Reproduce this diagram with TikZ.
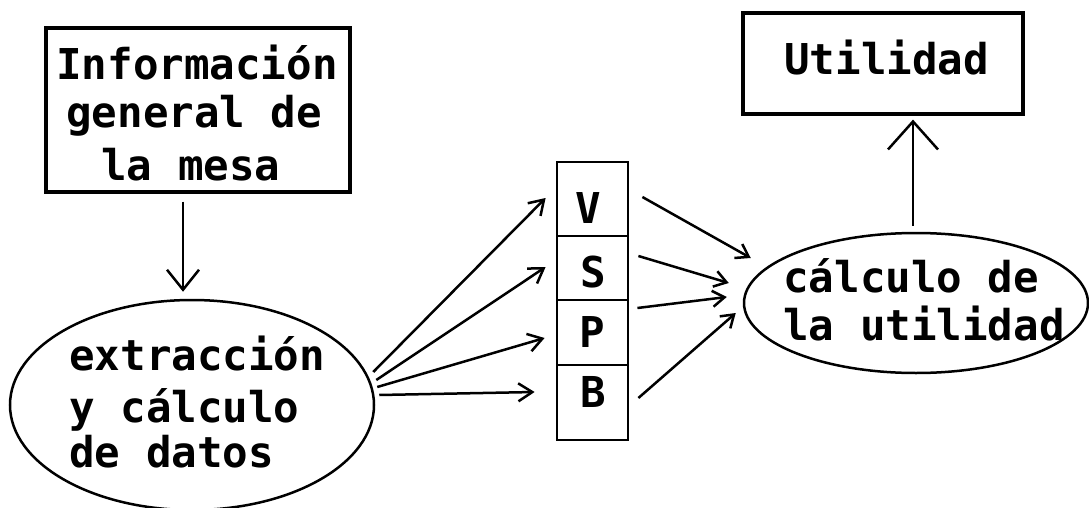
\documentclass[tikz,border=0pt]{standalone}
\usepackage{fontspec}
\setmonofont{DejaVu Sans Mono}
\usetikzlibrary{shapes.geometric,arrows.meta}
\begin{document}
\begin{tikzpicture}[x=1pt,y=-1pt,line width=2.5pt,
  lbl/.style={font=\ttfamily\bfseries\fontsize{42.5}{50}\selectfont,inner sep=0pt,anchor=base west},
  letter/.style={font=\ttfamily\bfseries\fontsize{42.5}{50}\selectfont,inner sep=0pt,anchor=base},
  box/.style={draw,rectangle,line width=3.2pt,inner sep=0pt},
  cell/.style={draw,rectangle,line width=2.8pt,inner sep=0pt,minimum width=71pt},
  oval/.style={draw,ellipse,line width=2.5pt,inner sep=0pt},
  headbig/.style={-{Straight Barb[length=28pt,width=50pt]}},
  headmid/.style={-{Straight Barb[length=20pt,width=32pt]}},
  headsmall/.style={-{Straight Barb[length=14pt,width=18pt]}},
  headtiny/.style={-{Straight Barb[length=12pt,width=16pt]}}]
  \fill[white] (0,0) rectangle (1089,508);
  \useasboundingbox (0,0) rectangle (1089,508);

  % input box
  \node[box,minimum width=304pt,minimum height=164pt] (info) at (198,110) {};
  \node[lbl] (info1) at (55,80) {Información};
  \node[lbl] (info2) at (65,128) {general de};
  \node[lbl] (info3) at (100,180) {la mesa};

  % extraction ellipse
  \node[oval,minimum width=364pt,minimum height=210pt] (extr) at (192,405) {};
  \node[lbl] (extr1) at (68,370) {extracción};
  \node[lbl] (extr2) at (68,422) {y cálculo};
  \node[lbl] (extr3) at (68,467) {de datos};

  % V S P B stack
  \node[cell,minimum height=74pt] (cellV) at (592.5,199) {};
  \node[cell,minimum height=64pt] (cellS) at (592.5,268) {};
  \node[cell,minimum height=65pt] (cellP) at (592.5,332.5) {};
  \node[cell,minimum height=75pt] (cellB) at (592.5,402.5) {};
  \node[letter] (lV) at (588,223) {V};
  \node[letter] (lS) at (593,287) {S};
  \node[letter] (lP) at (592,347) {P};
  \node[letter] (lB) at (593,407) {B};

  % utility computation ellipse
  \node[oval,minimum width=344pt,minimum height=140pt] (calc) at (916,303) {};
  \node[lbl] (calc1) at (782,292) {cálculo de};
  \node[lbl] (calc2) at (782,340) {la utilidad};

  % result box
  \node[box,minimum width=280pt,minimum height=101pt] (util) at (883,63.5) {};
  \node[lbl] (util1) at (783,75) {Utilidad};

  % connectors
  \draw[headmid] ([xshift=-15pt,yshift=-8pt]info.south) -- ([xshift=-9pt,yshift=7pt]extr.north);

  \draw[headsmall] ([xshift=-2pt,yshift=33pt]extr.east) -- ([xshift=-10pt,yshift=1pt]cellV.west);
  \draw[headsmall] ([xshift=1pt,yshift=25pt]extr.east) -- ([xshift=-10pt,yshift=1pt]cellS.west);
  \draw[headsmall] ([xshift=2pt,yshift=18pt]extr.east) -- ([xshift=-11pt,yshift=-5.5pt]cellP.west);
  \draw[headsmall] ([xshift=4pt,yshift=10pt]extr.east) -- ([xshift=-21pt,yshift=10.5pt]cellB.west);

  \draw[headtiny] ([xshift=13pt,yshift=2pt]cellV.east) -- ([xshift=8pt,yshift=45pt]calc.west);
  \draw[headtiny] ([xshift=9pt,yshift=12pt]cellS.east) -- ([xshift=-14pt,yshift=20pt]calc.west);
  \draw[headtiny] ([xshift=8pt,yshift=24.5pt]cellP.east) -- ([xshift=-16pt,yshift=6pt]calc.west);
  \draw[headtiny] ([xshift=9pt,yshift=4.5pt]cellB.east) -- ([xshift=-7pt,yshift=-10pt]calc.west);

  \draw[headbig] ([xshift=-3pt,yshift=6pt]calc.north) -- ([xshift=30pt,yshift=-4pt]util.south);
\end{tikzpicture}
\end{document}
